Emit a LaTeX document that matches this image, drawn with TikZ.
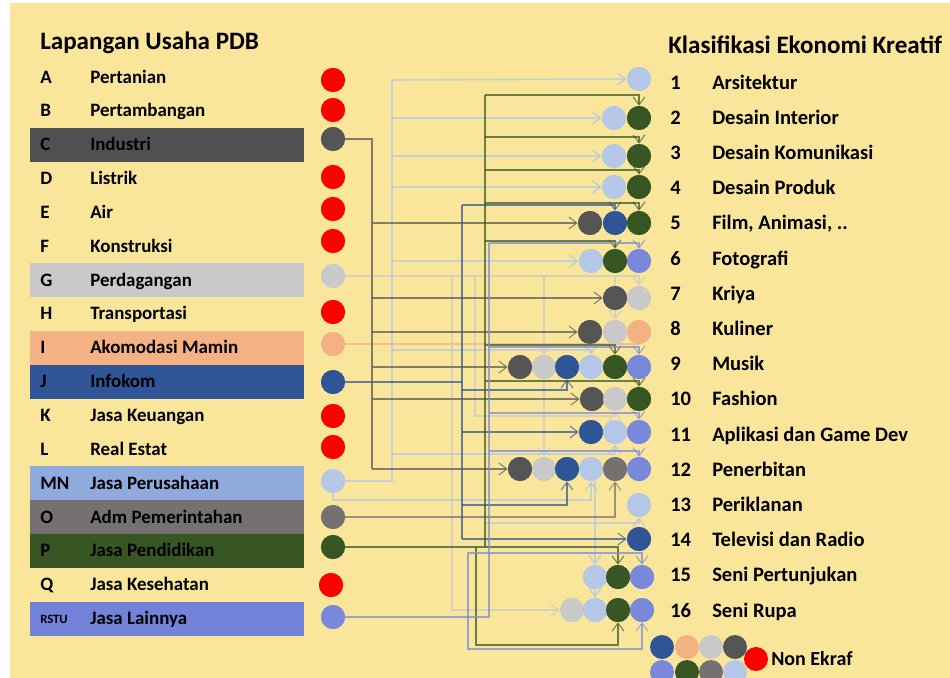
\documentclass[tikz,border=0pt]{standalone}
\usepackage{fontspec}
\setmainfont{Carlito}
\usetikzlibrary{arrows.meta}
\definecolor{bgY}{HTML}{F9E69A}
\definecolor{cC}{HTML}{555555}
\definecolor{bC}{HTML}{505050}
\definecolor{cG}{HTML}{C9C9C9}
\definecolor{cI}{HTML}{F4B183}
\definecolor{cJ}{HTML}{2F5597}
\definecolor{cMN}{HTML}{B4C7E7}
\definecolor{bMN}{HTML}{8FAADC}
\definecolor{cO}{HTML}{767171}
\definecolor{cP}{HTML}{375623}
\definecolor{cRS}{HTML}{7A88DC}
\definecolor{bRS}{HTML}{7282D8}
\definecolor{cRed}{HTML}{FF0000}
\tikzset{
 disc/.style={circle,inner sep=0pt,minimum size=18pt,fill=#1},
 ltxt/.style={anchor=base west,inner sep=0pt,font=\bfseries\fontsize{14.2}{16}\selectfont},
 rtxt/.style={anchor=base west,inner sep=0pt,font=\bfseries\fontsize{15.4}{17}\selectfont},
 ttl/.style={anchor=base west,inner sep=0pt,font=\bfseries\fontsize{18.8}{21}\selectfont},
 wire/.style={line width=0.8pt,draw=#1,draw opacity=0.72},
 arrowend/.style={-{Straight Barb[length=6pt,width=9pt]}},
}
\begin{document}
\begin{tikzpicture}[x=0.75pt,y=-0.75pt]
\useasboundingbox (0,0) rectangle (950,678);
\clip (0,0) rectangle (950,678);
\fill[white] (0,0) rectangle (950,678);
\fill[bgY] (10,3) rectangle (950,678);
% bands
\fill[bC]  (30,127.8) rectangle (304,161.6);
\fill[cG]  (30,263.2) rectangle (304,297.0);
\fill[cI]  (30,330.9) rectangle (304,364.7);
\fill[cJ]  (30,364.7) rectangle (304,398.5);
\fill[bMN] (30,466.3) rectangle (304,500.1);
\fill[cO]  (30,500.1) rectangle (304,534.0);
\fill[cP]  (30,534.0) rectangle (304,567.8);
\fill[bRS] (30,601.7) rectangle (304,635.5);
% titles
\node[ttl] (tl) at (40,49.5) {Lapangan Usaha PDB};
\node[ttl] (tr) at (668,53) {Klasifikasi Ekonomi Kreatif};
% left list
\foreach \k/\L/\N in {0/A/Pertanian,1/B/Pertambangan,2/C/Industri,3/D/Listrik,4/E/Air,5/F/Konstruksi,6/G/Perdagangan,7/H/Transportasi,8/I/Akomodasi Mamin,9/J/Infokom,10/K/Jasa Keuangan,11/L/Real Estat,12/MN/Jasa Perusahaan,13/O/Adm Pemerintahan,14/P/Jasa Pendidikan,15/Q/Jasa Kesehatan}{
  \node[ltxt] (tL\k) at (40,83+\k*33.85) {\L};
  \node[ltxt] (nL\k) at (90,83+\k*33.85) {\N};
}
\node[anchor=base west,inner sep=0pt,font=\bfseries\fontsize{9.5}{11}\selectfont] (tL16) at (40,623) {RSTU};
\node[ltxt] (nL16) at (90,624.6) {Jasa Lainnya};
% right list
\foreach \k/\N in {1/Arsitektur,2/Desain Interior,3/Desain Komunikasi,4/Desain Produk,5/{Film, Animasi, ..},6/Fotografi,7/Kriya,8/Kuliner,9/Musik,10/Fashion,11/Aplikasi dan Game Dev,12/Penerbitan,13/Periklanan,14/Televisi dan Radio,15/Seni Pertunjukan,16/Seni Rupa}{
  \node[rtxt] (tR\k) at (670,89+\k*35.2-35.2) {\k};
  \node[rtxt] (nR\k) at (712,89+\k*35.2-35.2) {\N};
}
% ---------- left circles ----------
\path
 node[disc=cRed] (LA) at (333,80) {}
 node[disc=cRed] (LB) at (333,110) {}
 node[disc=cC] (LC) at (333,139) {}
 node[disc=cRed] (LD) at (333,177) {}
 node[disc=cRed] (LE) at (333,209) {}
 node[disc=cRed] (LF) at (333,241) {}
 node[disc=cG] (LG) at (333,276) {}
 node[disc=cRed] (LH) at (333,312) {}
 node[disc=cI] (LI) at (333,344) {}
 node[disc=cJ] (LJ) at (333,382) {}
 node[disc=cRed] (LK) at (333,416) {}
 node[disc=cRed] (LL) at (333,447) {}
 node[disc=cMN] (LMN) at (333,481) {}
 node[disc=cO] (LO) at (333,517) {}
 node[disc=cP] (LP) at (333,547) {}
 node[disc=cRed] (LQ) at (331,585) {}
 node[disc=cRS] (LRS) at (333,617) {};
% ---------- right circles ----------
\path
 node[disc=cMN] (r1a) at (639,79) {}
 node[disc=cMN] (r2a) at (614,118) {} node[disc=cP] (r2b) at (639,118) {}
 node[disc=cMN] (r3a) at (614,156) {} node[disc=cP] (r3b) at (639,156) {}
 node[disc=cMN] (r4a) at (614,187) {} node[disc=cP] (r4b) at (639,187) {}
 node[disc=cC] (r5a) at (590,223) {} node[disc=cJ] (r5b) at (615,223) {} node[disc=cP] (r5c) at (639,223) {}
 node[disc=cMN] (r6a) at (591,261) {} node[disc=cP] (r6b) at (615,261) {} node[disc=cRS] (r6c) at (639,261) {}
 node[disc=cC] (r7a) at (615,298) {} node[disc=cG] (r7b) at (639,298) {}
 node[disc=cC] (r8a) at (590,332) {} node[disc=cG] (r8b) at (615,332) {} node[disc=cI] (r8c) at (639,332) {}
 node[disc=cC] (r9a) at (520,367) {} node[disc=cG] (r9b) at (544,367) {} node[disc=cJ] (r9c) at (567,367) {}
 node[disc=cMN] (r9d) at (591,367) {} node[disc=cP] (r9e) at (615,367) {} node[disc=cRS] (r9f) at (639,367) {}
 node[disc=cC] (r10a) at (592,399) {} node[disc=cG] (r10b) at (615,399) {} node[disc=cP] (r10c) at (639,399) {}
 node[disc=cJ] (r11a) at (591,432) {} node[disc=cMN] (r11b) at (615,432) {} node[disc=cRS] (r11c) at (639,432) {}
 node[disc=cC] (r12a) at (520,469) {} node[disc=cG] (r12b) at (544,469) {} node[disc=cJ] (r12c) at (567,469) {}
 node[disc=cMN] (r12d) at (591,469) {} node[disc=cO] (r12e) at (615,469) {} node[disc=cRS] (r12f) at (639,469) {}
 node[disc=cMN] (r13a) at (639,505) {}
 node[disc=cJ] (r14a) at (639,539) {}
 node[disc=cMN] (r15a) at (595,577) {} node[disc=cP] (r15b) at (618,577) {} node[disc=cRS] (r15c) at (642,577) {}
 node[disc=cG] (r16a) at (572,610) {} node[disc=cMN] (r16b) at (595,610) {} node[disc=cP] (r16c) at (618,610) {} node[disc=cRS] (r16d) at (642,610) {};
% ---------- junction coordinates ----------
\coordinate (cX) at (372,469);
\coordinate (mX) at (392,80);
\coordinate (m9) at (392,350);
\coordinate (m11) at (392,454);
\coordinate (m12) at (333,500);
\coordinate (m13) at (486,523);
\coordinate (g16) at (452,276);
\coordinate (g10) at (475,276);
\coordinate (g10b) at (475,416);
\coordinate (jT) at (462,205);
\coordinate (jB) at (462,539);
\coordinate (j9) at (462,390);
\coordinate (j12) at (462,505);
\coordinate (pT) at (485,95);
\coordinate (p3) at (485,137);
\coordinate (p4) at (485,170);
\coordinate (p5) at (485,203);
\coordinate (p6) at (485,241);
\coordinate (p9) at (485,345);
\coordinate (p10) at (485,381);
\coordinate (p16a) at (476,547);
\coordinate (p16b) at (476,645);
\coordinate (sT) at (489,243);
\coordinate (s9) at (489,347);
\coordinate (s11) at (489,413);
\coordinate (s12) at (489,451);
\coordinate (s15) at (489,553);
\coordinate (s16a) at (468,553);
\coordinate (s16b) at (468,649);
% ---------- connectors ----------
% I
\draw[wire=cI] (LI.east) -- (LI.east -| r8c.south);
% G
\begin{scope}[wire=cG,line width=1pt]
\draw[arrowend] (LG.east) -| (r7b.north);
\draw[arrowend] (g16) |- (r16a.west);
\draw[arrowend] (g10) -- (g10b) -| (r10b.south);
\draw[arrowend] (LG.east -| r9b.north) -- (r9b.north);
\draw[arrowend] (LG.east -| r8b.north) -- (r8b.north);
\draw[arrowend] (r9b.south) -- (r12b.north);
\end{scope}
% MN
\begin{scope}[wire=cMN,line width=1.2pt]
\draw (LMN.east) -| (mX);
\draw[arrowend] (mX) -- (r1a.west);
\draw[arrowend] (mX |- r2a.west) -- (r2a.west);
\draw[arrowend] (mX |- r3a.west) -- (r3a.west);
\draw[arrowend] (mX |- r4a.west) -- (r4a.west);
\draw[arrowend] (mX |- r6a.west) -- (r6a.west);
\draw[arrowend] (m9) -| (r9d.north);
\draw[arrowend] (m11) -| (r11b.south);
\draw[arrowend] (LMN.south) -- (m12) -| (r12d.south);
\draw[arrowend] (m13) -| (r13a.south);
\draw[arrowend] (r12d.south -| r15a.north) -- (r15a.north);
\draw[arrowend] (r15a.south) -- (r16b.north);
\end{scope}
% O
\draw[wire=cO,arrowend] (LO.east) -| (r12e.south);
% C
\begin{scope}[wire=cC]
\draw (LC.east) -| (cX);
\draw[arrowend] (cX |- r5a.west) -- (r5a.west);
\draw[arrowend] (cX |- r7a.west) -- (r7a.west);
\draw[arrowend] (cX |- r8a.west) -- (r8a.west);
\draw[arrowend] (cX |- r9a.west) -- (r9a.west);
\draw[arrowend] (cX |- r10a.west) -- (r10a.west);
\draw[arrowend] (cX) -- (r12a.west);
\end{scope}
% J
\begin{scope}[wire=cJ]
\draw (LJ.east) -- (LJ.east -| jT);
\draw (jT) -- (jB);
\draw[arrowend] (jT) -| (r5b.north);
\draw[arrowend] (j9) -| (r9c.south);
\draw[arrowend] (jT |- r11a.west) -- (r11a.west);
\draw[arrowend] (j12) -| (r12c.south);
\draw[arrowend] (jB) -- (r14a.west);
\end{scope}
% P
\begin{scope}[wire=cP]
\draw (LP.east) -| (pT);
\draw[arrowend] (pT) -| (r2b.north);
\draw[arrowend] (p3) -| (r3b.north);
\draw[arrowend] (p4) -| (r4b.north);
\draw[arrowend] (p5) -| (r5c.north);
\draw[arrowend] (p6) -| (r6b.north);
\draw[arrowend] (p9) -| (r9e.north);
\draw[arrowend] (p10) -| (r10c.north);
\draw[arrowend] (LP.east -| pT) -| (r15b.north);
\draw[arrowend] (p16a) -- (p16b) -| (r16c.south);
\end{scope}
% RSTU
\begin{scope}[wire=cRS]
\draw (LRS.east) -| (sT);
\draw[arrowend] (sT) -| (r6c.north);
\draw[arrowend] (s9) -| (r9f.north);
\draw[arrowend] (s11) -| (r11c.north);
\draw[arrowend] (s12) -| (r12f.north);
\draw[arrowend] (s15) -| (r15c.north);
\draw[arrowend] (s15) -- (s16a) -- (s16b) -| (r16d.south);
\end{scope}
% ---------- circles on top of connectors ----------
\foreach \n/\c in {LA/cRed,LB/cRed,LC/cC,LD/cRed,LE/cRed,LF/cRed,LG/cG,LH/cRed,LI/cI,LJ/cJ,LK/cRed,LL/cRed,LMN/cMN,LO/cO,LP/cP,LQ/cRed,LRS/cRS,
 r1a/cMN,r2a/cMN,r2b/cP,r3a/cMN,r3b/cP,r4a/cMN,r4b/cP,r5a/cC,r5b/cJ,r5c/cP,r6a/cMN,r6b/cP,r6c/cRS,r7a/cC,r7b/cG,r8a/cC,r8b/cG,r8c/cI,
 r9a/cC,r9b/cG,r9c/cJ,r9d/cMN,r9e/cP,r9f/cRS,r10a/cC,r10b/cG,r10c/cP,r11a/cJ,r11b/cMN,r11c/cRS,
 r12a/cC,r12b/cG,r12c/cJ,r12d/cMN,r12e/cO,r12f/cRS,r13a/cMN,r14a/cJ,r15a/cMN,r15b/cP,r15c/cRS,r16a/cG,r16b/cMN,r16c/cP,r16d/cRS}{
  \fill[\c] (\n.center) circle (9pt);
}
% legend
\node[disc=cJ] (lg1) at (662,647) {};
\node[disc=cI] (lg2) at (687,647) {};
\node[disc=cG] (lg3) at (711,647) {};
\node[disc=cC] (lg4) at (735,647) {};
\node[disc=cRS] (lg5) at (662,672) {};
\node[disc=cP] (lg6) at (687,672) {};
\node[disc=cO] (lg7) at (711,672) {};
\node[disc=cMN] (lg8) at (735,672) {};
\node[disc=cRed] (lgR) at (756,659) {};
\node[anchor=base west,inner sep=0pt,font=\bfseries\fontsize{15}{17}\selectfont] (lgT) at (771,665) {Non Ekraf};
\end{tikzpicture}
\end{document}
